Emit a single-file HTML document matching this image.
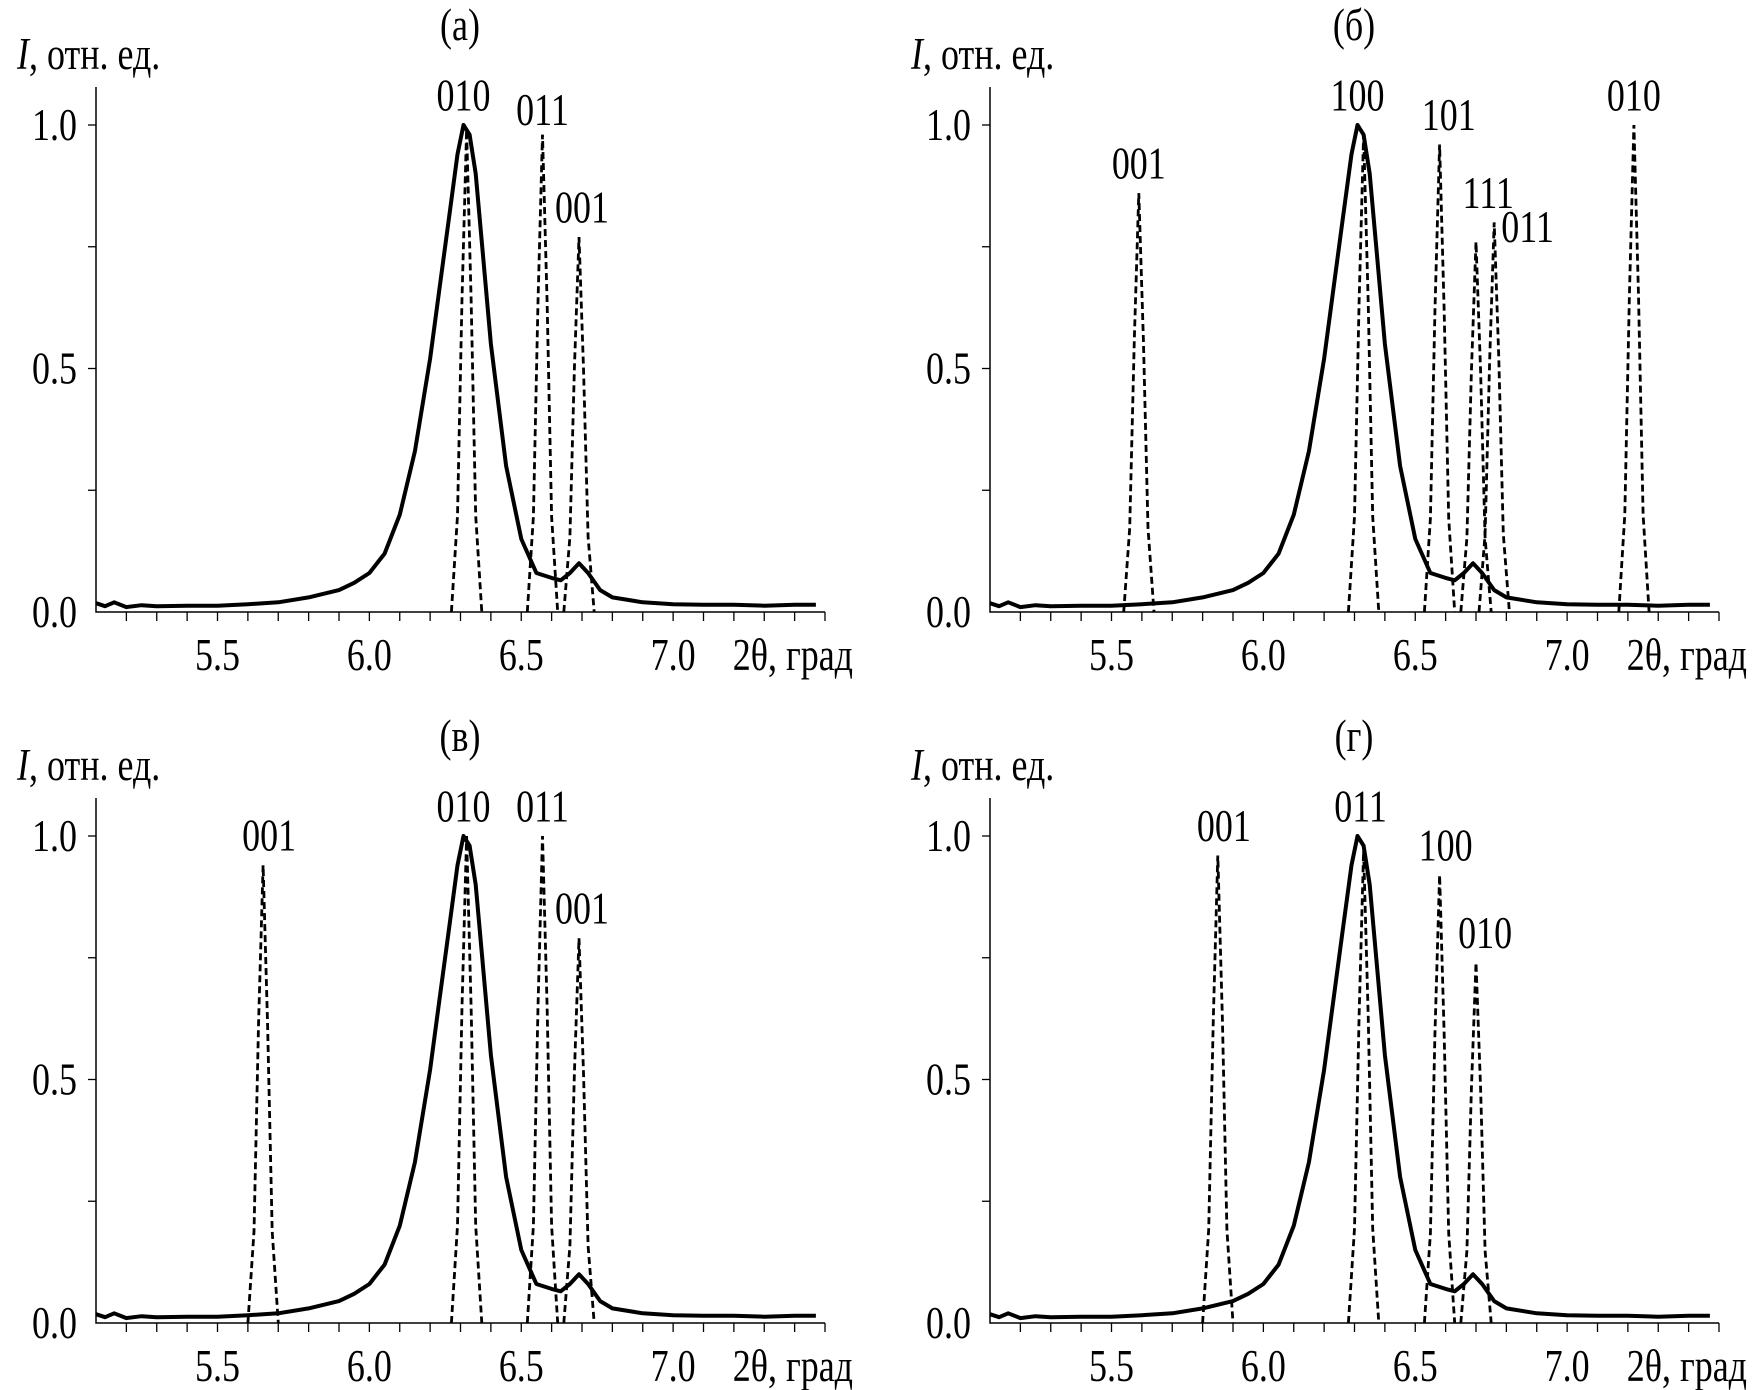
<!DOCTYPE html>
<html><head><meta charset="utf-8"><style>
body{margin:0;background:#fff}
svg{display:block}
text{font-family:"Liberation Serif",serif;fill:#000}
</style></head><body>
<svg id="chart" width="1759" height="1390" viewBox="0 0 1759 1390"></svg>
<script>
// shared measured profile (solid line)
const solidX = [5.1,5.13,5.16,5.2,5.25,5.3,5.4,5.5,5.6,5.7,5.8,5.9,5.95,6.0,6.05,6.1,6.15,6.2,6.23,6.26,6.29,6.31,6.33,6.35,6.37,6.4,6.45,6.5,6.55,6.6,6.63,6.66,6.69,6.72,6.76,6.8,6.9,7.0,7.1,7.2,7.3,7.4,7.47];
const solidY = [0.018,0.012,0.02,0.01,0.014,0.012,0.013,0.013,0.016,0.02,0.03,0.045,0.06,0.08,0.12,0.2,0.33,0.52,0.66,0.8,0.94,1.0,0.98,0.9,0.76,0.55,0.3,0.15,0.08,0.07,0.065,0.08,0.1,0.08,0.045,0.03,0.02,0.016,0.015,0.015,0.013,0.015,0.015];
// calculated peaks per panel
const peakPosA = [6.32,6.57,6.69], peakHA = [0.99,0.98,0.77];
const peakPosB = [5.59,6.33,6.58,6.70,6.76,7.22], peakHB = [0.86,0.98,0.96,0.76,0.80,1.0];
const peakPosC = [5.65,6.32,6.57,6.69], peakHC = [0.94,1.0,1.0,0.79];
const peakPosD = [5.85,6.33,6.58,6.70], peakHD = [0.96,0.97,0.92,0.74];
const labelsA = ["010","011","001"], labelXA=[6.31,6.57,6.70], labelYA=[1.03,1.0,0.8];
const labelsB = ["001","100","101","111","011","010"], labelXB=[5.59,6.31,6.61,6.74,6.87,7.22], labelYB=[0.89,1.03,0.99,0.83,0.76,1.03];
const labelsC = ["001","010","011","001"], labelXC=[5.67,6.31,6.57,6.7], labelYC=[0.97,1.03,1.03,0.82];
const labelsD = ["001","011","100","010"], labelXD=[5.87,6.32,6.6,6.73], labelYD=[0.99,1.03,0.95,0.77];
const xTicks = [5.5,6.0,6.5,7.0];
const yTicks = [0.0,0.5,1.0];
const titles = ["(а)","(б)","(в)","(г)"];

const panels = [
 {ox:96,oy:612,pos:peakPosA,h:peakHA,lab:labelsA,lx:labelXA,ly:labelYA},
 {ox:990,oy:612,pos:peakPosB,h:peakHB,lab:labelsB,lx:labelXB,ly:labelYB},
 {ox:96,oy:1323,pos:peakPosC,h:peakHC,lab:labelsC,lx:labelXC,ly:labelYC},
 {ox:990,oy:1323,pos:peakPosD,h:peakHD,lab:labelsD,lx:labelXD,ly:labelYD}
];
const NS="http://www.w3.org/2000/svg";
const svg=document.getElementById('chart');
function mk(tag,attrs,parent){const e=document.createElementNS(NS,tag);for(const k in attrs)e.setAttribute(k,attrs[k]);(parent||svg).appendChild(e);return e;}
function txt(x,y,anchor,str,parent){const e=mk('text',{x:0,y:0,'font-size':45,'text-anchor':anchor,transform:`translate(${x.toFixed(1)},${y.toFixed(1)}) scale(0.8,1)`},parent);e.textContent=str;return e;}
const X0=5.1,X1=7.5,W=729,H=487;
const profile=[[-0.05,0],[-0.03,0.2],[-0.015,0.65],[0,1],[0.015,0.65],[0.03,0.2],[0.05,0]];
panels.forEach((p,i)=>{
  const g=mk('g',{});
  
  
  const sx=v=>p.ox+(v-X0)/(X1-X0)*W;
  const sy=v=>p.oy-v*H;
  const ax=mk('path',{d:`M${p.ox},${p.oy-525}V${p.oy}H${p.ox+W}`,stroke:'#000','stroke-width':1.5,fill:'none'},g);
  
  
  for(let k=1;k<=24;k++){const x=sx(X0+k*0.1);mk('line',{x1:x,x2:x,y1:p.oy,y2:p.oy+9,stroke:'#000','stroke-width':1.3},g);}
  for(let k=1;k<=4;k++){const y=sy(k*0.25);mk('line',{x1:p.ox-8,x2:p.ox,y1:y,y2:y,stroke:'#000','stroke-width':1.3},g);}
  xTicks.forEach(t=>{const e=txt(sx(t),p.oy+58,'middle',t.toFixed(1),g);
    
    });
  yTicks.forEach(t=>{const e=txt(p.ox-19,sy(t)+15,'end',t.toFixed(1),g);
    
    });
  const xt=txt(p.ox+W+28,p.oy+58,'end','2θ, град',g);
  
  
  const yt=txt(p.ox-79,p.oy-543,'start','',g);
  yt.innerHTML='<tspan font-style="italic">I</tspan>, отн. ед.';
  
  
  const tt=txt(p.ox+364,p.oy-572,'middle',titles[i],g);
  
  
  p.pos.forEach((c,j)=>{
    const d=profile.map((q,n)=>(n?'L':'M')+sx(c+q[0]).toFixed(1)+','+sy(q[1]*p.h[j]).toFixed(1)).join('');
    const e=mk('path',{d,stroke:'#000','stroke-width':2.8,fill:'none','stroke-dasharray':'7,4'},g);
    
    
  });
  const sd=solidX.map((x,n)=>(n?'L':'M')+sx(x).toFixed(1)+','+sy(solidY[n]).toFixed(1)).join('');
  const sl=mk('path',{d:sd,stroke:'#000','stroke-width':4,fill:'none','stroke-linejoin':'round'},g);
  
  
  p.lab.forEach((L,j)=>{const e=txt(sx(p.lx[j]),sy(p.ly[j]),'middle',L,g);
    
    });
});
</script>
</body></html>
